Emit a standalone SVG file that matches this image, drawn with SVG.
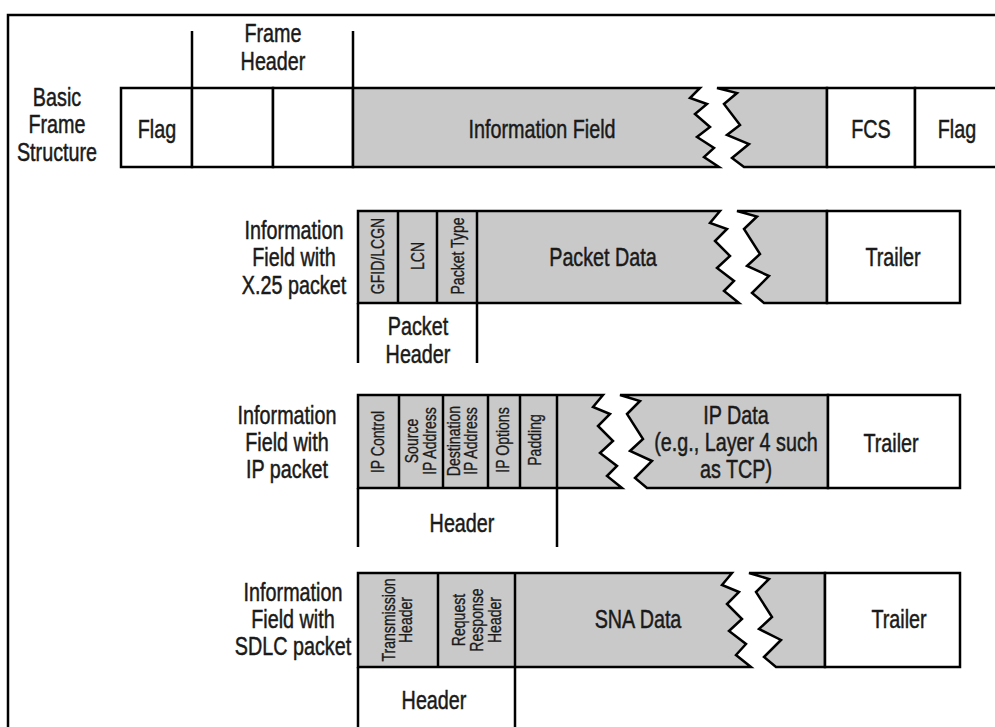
<svg xmlns="http://www.w3.org/2000/svg" width="995" height="727" viewBox="0 0 995 727">
<style>
.bg{fill:#ffffff}
.ln{stroke:#000;stroke-width:2.5;fill:none;stroke-linecap:butt}
.g{fill:#c9c9c9;stroke:#000;stroke-width:2.5;stroke-linejoin:miter}
.w{fill:#ffffff;stroke:#000;stroke-width:2.5}
.t{font-family:"Liberation Sans",Arial,sans-serif;font-size:26px;fill:#1a1a1a;stroke:#1a1a1a;stroke-width:0.5;text-anchor:middle}
.v{font-family:"Liberation Sans",Arial,sans-serif;font-size:19px;fill:#1a1a1a;stroke:#1a1a1a;stroke-width:0.35;text-anchor:middle}
</style>
<rect class="bg" x="0" y="0" width="995" height="727"/>
<g id="frame"><path class="ln" d="M8,727 V15 H1000"/></g>

<g id="frame-header-label">
<text class="t" transform="translate(273,0) scale(0.76,1)"><tspan x="0" y="42">Frame</tspan><tspan x="0" y="70">Header</tspan></text>
</g>

<g id="row-basic">
<text class="t" transform="translate(57,0) scale(0.76,1)"><tspan x="0" y="106">Basic</tspan><tspan x="0" y="133">Frame</tspan><tspan x="0" y="161">Structure</tspan></text>
<g id="basic-flag1"><rect class="w" x="121" y="88" width="71" height="79"/><text class="t" transform="translate(157,138) scale(0.76,1)">Flag</text></g>
<g id="basic-hdr1"><rect class="w" x="192" y="88" width="81" height="79"/></g>
<g id="basic-hdr2"><rect class="w" x="273" y="88" width="80" height="79"/></g>
<g id="basic-info">
<polygon class="g" points="353,88 700,88 690,98 707,104 695,114 710,127 697,137 714,148 704,157 719,167 353,167"/>
<polygon class="g" points="717,88 827,88 827,167 744,167 732,158 749,144 727,135 740,125 724,104 737,93"/>
<text class="t" transform="translate(542,138) scale(0.76,1)">Information Field</text>
</g>
<g id="basic-fcs"><rect class="w" x="827" y="88" width="88" height="79"/><text class="t" transform="translate(871,138) scale(0.76,1)">FCS</text></g>
<g id="basic-flag2"><rect class="w" x="915" y="88" width="90" height="79"/><text class="t" transform="translate(957,138) scale(0.76,1)">Flag</text></g>
</g>

<g id="row-x25">
<text class="t" transform="translate(294,0) scale(0.76,1)"><tspan x="0" y="239">Information</tspan><tspan x="0" y="266">Field with</tspan><tspan x="0" y="294">X.25 packet</tspan></text>
<polygon class="g" points="358,211 720,211 710,223 727,229 715,241 730,256 717,268 734,281 724,291 739,303 358,303"/>
<polygon class="g" points="737,211 827,211 827,303 764,303 752,293 769,276 747,266 760,254 744,229 757,216.5"/>
<g id="x25-gfid"><text class="v" transform="translate(377,256) rotate(-90) scale(0.74,1)" y="6.8">GFID/LCGN</text></g>
<g id="x25-lcn"><path class="ln" d="M398,211 V303"/><text class="v" transform="translate(417,256) rotate(-90) scale(0.74,1)" y="6.8">LCN</text></g>
<g id="x25-ptype"><path class="ln" d="M437,211 V303"/><text class="v" transform="translate(457,256) rotate(-90) scale(0.74,1)" y="6.8">Packet Type</text></g>
<g id="x25-data"><path class="ln" d="M477,211 V303"/><text class="t" transform="translate(603,266) scale(0.76,1)">Packet Data</text></g>
<g id="x25-trailer"><rect class="w" x="827" y="211" width="133" height="92"/><text class="t" transform="translate(893,266) scale(0.76,1)">Trailer</text></g>
<g id="x25-header-label"><text class="t" transform="translate(418,0) scale(0.76,1)"><tspan x="0" y="335">Packet</tspan><tspan x="0" y="363">Header</tspan></text></g>
</g>

<g id="row-ip">
<text class="t" transform="translate(287,0) scale(0.76,1)"><tspan x="0" y="424">Information</tspan><tspan x="0" y="451">Field with</tspan><tspan x="0" y="478">IP packet</tspan></text>
<polygon class="g" points="358,395 603,395 593,407 610,414 598,426 613,441 600,453 617,466 607,476 622,488 358,488"/>
<polygon class="g" points="620,395 828,395 828,488 647,488 635,478 652,461 630,451 643,439 627,414 640,401"/>
<g id="ip-control"><text class="v" transform="translate(377,442) rotate(-90) scale(0.74,1)" y="6.8">IP Control</text></g>
<g id="ip-source"><path class="ln" d="M399,395 V488"/><text class="v" transform="translate(420,441) rotate(-90) scale(0.74,1)"><tspan x="0" y="-2.2">Source</tspan><tspan x="0" y="15.8">IP Address</tspan></text></g>
<g id="ip-dest"><path class="ln" d="M443,395 V488"/><text class="v" transform="translate(461.5,441) rotate(-90) scale(0.74,1)"><tspan x="0" y="-1.7">Destination</tspan><tspan x="0" y="15.3">IP Address</tspan></text></g>
<g id="ip-options"><path class="ln" d="M488,395 V488"/><text class="v" transform="translate(502,440) rotate(-90) scale(0.74,1)" y="6.8">IP Options</text></g>
<g id="ip-padding"><path class="ln" d="M520,395 V488"/><text class="v" transform="translate(534,440) rotate(-90) scale(0.74,1)" y="6.8">Padding</text></g>
<g id="ip-data"><path class="ln" d="M557,395 V488"/><text class="t" transform="translate(736,0) scale(0.76,1)"><tspan x="0" y="424">IP Data</tspan><tspan x="0" y="451">(e.g., Layer 4 such</tspan><tspan x="0" y="478">as TCP)</tspan></text></g>
<g id="ip-trailer"><rect class="w" x="828" y="395" width="132" height="93"/><text class="t" transform="translate(891,452) scale(0.76,1)">Trailer</text></g>
<g id="ip-header-label"><text class="t" transform="translate(462,532) scale(0.76,1)">Header</text></g>
</g>

<g id="row-sdlc">
<text class="t" transform="translate(293,0) scale(0.76,1)"><tspan x="0" y="601">Information</tspan><tspan x="0" y="628">Field with</tspan><tspan x="0" y="655">SDLC packet</tspan></text>
<polygon class="g" points="358,573 732,573 722,585 739,592 727,604 742,619 729,631 746,644 736,655 751,667 358,667"/>
<polygon class="g" points="749,573 825,573 825,667 776,667 764,657 781,640 759,629 772,617 756,592 769,579"/>
<g id="sdlc-th"><text class="v" transform="translate(396.5,620) rotate(-90) scale(0.74,1)"><tspan x="0" y="-1.7">Transmission</tspan><tspan x="0" y="15.3">Header</tspan></text></g>
<g id="sdlc-rrh"><path class="ln" d="M438,573 V667"/><text class="v" transform="translate(476,620) rotate(-90) scale(0.74,1)"><tspan x="0" y="-11.2">Request</tspan><tspan x="0" y="6.8">Response</tspan><tspan x="0" y="24.8">Header</tspan></text></g>
<g id="sdlc-data"><path class="ln" d="M515,573 V667"/><text class="t" transform="translate(638,628) scale(0.76,1)">SNA Data</text></g>
<g id="sdlc-trailer"><rect class="w" x="825" y="573" width="135" height="94"/><text class="t" transform="translate(899,628) scale(0.76,1)">Trailer</text></g>
<g id="sdlc-header-label"><text class="t" transform="translate(434,709) scale(0.76,1)">Header</text></g>
</g>

<g id="connectors">
<path class="ln" d="M192,31 V88 M353,31 V88"/>
<path class="ln" d="M358,303 V363 M477,303 V363"/>
<path class="ln" d="M358,488 V547 M557,488 V547"/>
<path class="ln" d="M358,667 V728 M515,667 V728"/>
</g>
</svg>
